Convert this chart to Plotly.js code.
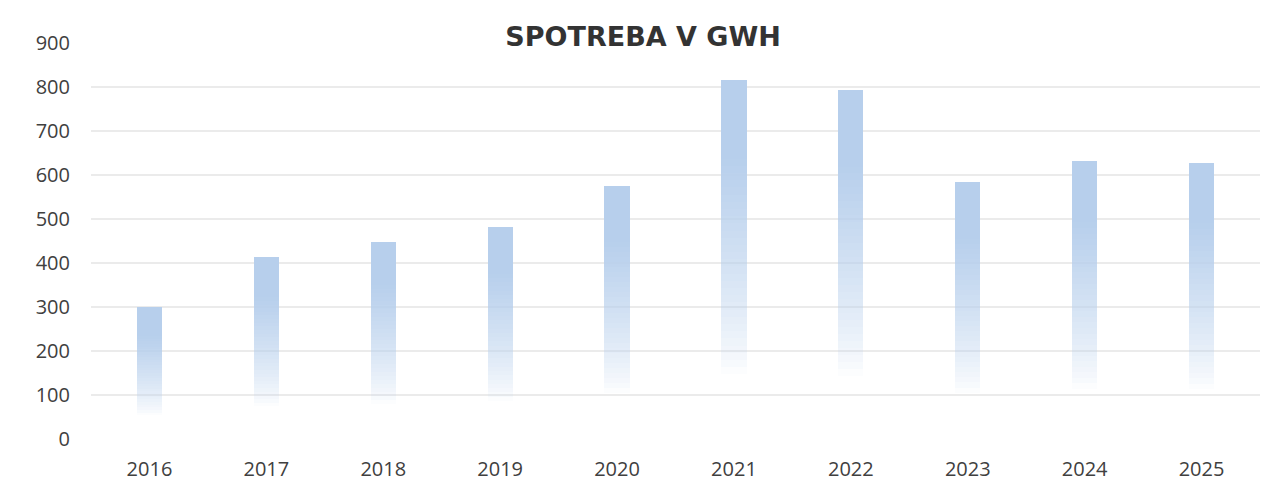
<!DOCTYPE html>
<html>
<head>
<meta charset="utf-8">
<script src="https://cdn.plot.ly/plotly-3.0.1.min.js"></script>
<style>html,body{margin:0;padding:0;background:#fff}#chart{width:1261px;height:482px}</style>
</head>
<body>
<div id="chart"></div>
<script>
const chartTitle = "SPOTREBA V GWH";
const years = ["2016","2017","2018","2019","2020","2021","2022","2023","2024","2025"];
const consumption = [300, 413, 448, 482, 575, 817, 794, 584, 631, 628];
const yTicks = [0,100,200,300,400,500,600,700,800,900];

// gradient fill emulated by stacking thin slices of each bar
const N = 50;
const barTopRGB = [183, 207, 236];
const traces = [];
for (let k = 0; k < N; k++) {
  const t = (k + 0.5) / N;
  let a = Math.min(1, Math.max(0, (t - 0.18) / 0.6));
  a = Math.pow(a, 0.75);
  traces.push({
    type: 'bar',
    x: years,
    y: consumption.map(v => v / N),
    width: 0.215,
    marker: {color: `rgba(${barTopRGB[0]},${barTopRGB[1]},${barTopRGB[2]},${a.toFixed(3)})`, line: {width: 0}},
    hoverinfo: 'skip',
    showlegend: false
  });
}

const layout = {
  width: 1261, height: 482,
  margin: {l: 91, r: 1, t: 43, b: 43},
  paper_bgcolor: '#ffffff', plot_bgcolor: '#ffffff',
  barmode: 'stack', bargap: 0,
  title: {
    text: chartTitle,
    font: {family: 'DejaVu Sans', size: 27, color: '#333333', weight: 'bold'},
    xref: 'container', x: 0.51, xanchor: 'center',
    yref: 'container', y: 1 - 37/482, yanchor: 'middle'
  },
  xaxis: {
    type: 'category', range: [-0.5, 9.5],
    showgrid: false, zeroline: false, showline: false, ticks: '',
    ticklabelstandoff: 16,
    tickfont: {family: 'Open Sans', size: 20, color: '#404040'}
  },
  yaxis: {
    range: [0, 900], tickvals: yTicks, ticktext: yTicks.map(String),
    showgrid: true, gridcolor: '#ebebeb', gridwidth: 2,
    zeroline: false, showline: false, ticks: '',
    ticklabelstandoff: 20,
    tickfont: {family: 'Open Sans', size: 20, color: '#404040'}
  }
};

Plotly.newPlot('chart', traces, layout, {displayModeBar: false, staticPlot: true});
</script>
</body>
</html>
